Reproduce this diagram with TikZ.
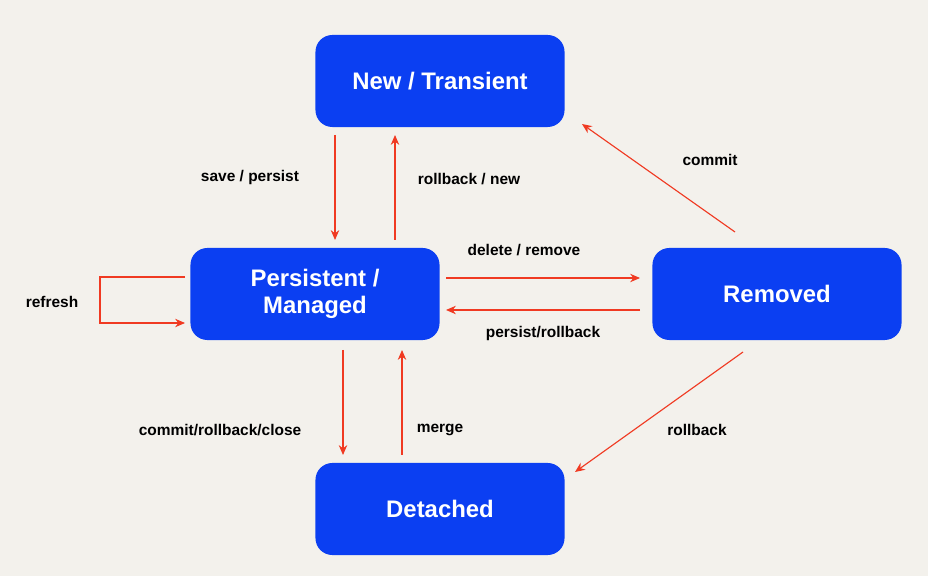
\documentclass[tikz,border=0pt]{standalone}
\usepackage{fontspec}
\setmainfont{Liberation Sans}
\usetikzlibrary{arrows.meta}
\definecolor{paper}{HTML}{F3F1EC}
\definecolor{boxblue}{HTML}{0B3FF2}
\definecolor{arrowred}{HTML}{F03A22}
\tikzstyle{statebox} = [rectangle, rounded corners=12pt, fill=boxblue, text=white, font=\fontsize{17}{19}\selectfont\bfseries, minimum width=6.225cm, minimum height=2.3cm, align=center]
\tikzstyle{arrow} = [arrowred, line width=0.8pt, -{Stealth[length=7pt,width=6pt]}]
\tikzstyle{lbl} = [font=\fontsize{11}{13}\selectfont\bfseries]

\begin{document}
\begin{tikzpicture}[x=0.025cm,y=-0.025cm]
    \fill[paper] (0,0) rectangle (928,576);
    \node[statebox] (new) at (440,81) {New / Transient};
    \node[statebox] (pers) at (315,294) {Persistent /\\Managed};
    \node[statebox] (rem) at (777,294) {Removed};
    \node[statebox] (det) at (440,509) {Detached};

    \coordinate (a1) at (335,135); \coordinate (a2) at (335,240);
    \coordinate (b1) at (395,240); \coordinate (b2) at (395,135);
    \coordinate (c1) at (446,278); \coordinate (c2) at (640,278);
    \coordinate (d1) at (640,310); \coordinate (d2) at (446,310);
    \coordinate (e1) at (343,350); \coordinate (e2) at (343,455);
    \coordinate (f1) at (402,455); \coordinate (f2) at (402,350);
    \coordinate (g1) at (735,232); \coordinate (g2) at (582,124);
    \coordinate (h1) at (743,352); \coordinate (h2) at (575,472);
    \coordinate (r1) at (185,277); \coordinate (r2) at (185,323);

    \draw[arrow] (a1) -- (a2);
    \draw[arrow] (b1) -- (b2);
    \draw[arrow] (c1) -- (c2);
    \draw[arrow] (d1) -- (d2);
    \draw[arrow] (e1) -- (e2);
    \draw[arrow] (f1) -- (f2);
    \draw[arrow] (g1) -- (g2);
    \draw[arrow] (h1) -- (h2);
    \draw[arrow] (r1) -- ++(-85,0) |- (r2);

    \node[lbl] (l1) at (250,178) {save / persist};
    \node[lbl] (l2) at (469,179) {rollback / new};
    \node[lbl] (l3) at (710,160) {commit};
    \node[lbl] (l4) at (524,250) {delete / remove};
    \node[lbl] (l5) at (543,334) {persist/rollback};
    \node[lbl] (l6) at (52,302) {refresh};
    \node[lbl] (l7) at (220,430) {commit/rollback/close};
    \node[lbl] (l8) at (440,430) {merge};
    \node[lbl] (l9) at (697,430) {rollback};
\end{tikzpicture}
\end{document}
